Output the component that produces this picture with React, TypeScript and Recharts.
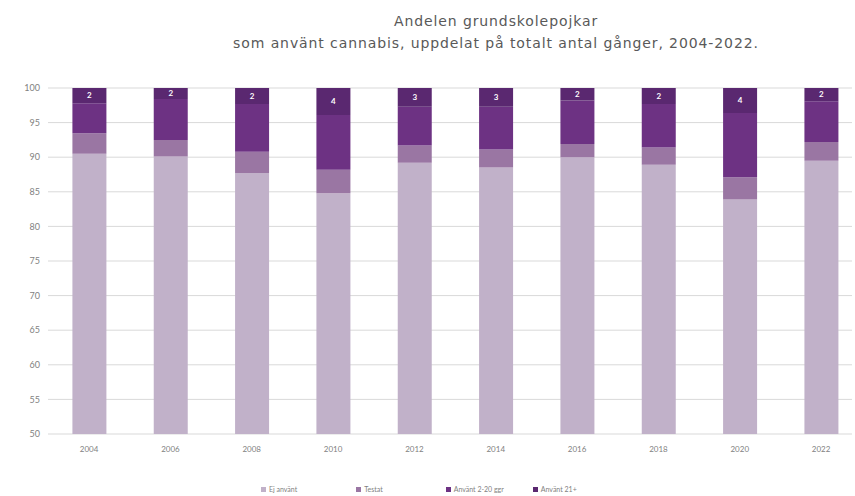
import React from 'react'
import { BarChart, Bar, XAxis, YAxis, CartesianGrid, LabelList } from 'recharts'

const years = [2004, 2006, 2008, 2010, 2012, 2014, 2016, 2018, 2020, 2022]
const ejAnvant = [90.5, 90.1, 87.7, 84.8, 89.2, 88.5, 90.0, 88.9, 83.9, 89.5]
const testat = [2.95, 2.4, 3.1, 3.4, 2.5, 2.6, 1.9, 2.5, 3.2, 2.7]
const anvant2to20 = [4.35, 5.9, 6.9, 7.9, 5.6, 6.2, 6.3, 6.3, 9.3, 5.9]
const anvant21 = [2.2, 1.6, 2.3, 3.9, 2.7, 2.7, 1.8, 2.3, 3.6, 1.9]
const yTicks = [50, 55, 60, 65, 70, 75, 80, 85, 90, 95, 100]

const series = [
  { key: 'ej', name: 'Ej använt', color: '#c1b1c9' },
  { key: 'testat', name: 'Testat', color: '#9a76a3' },
  { key: 'a220', name: 'Använt 2-20 ggr', color: '#6d3283' },
  { key: 'a21', name: 'Använt 21+', color: '#5a2870' },
]

const data = years.map((year, i) => ({
  year,
  ej: ejAnvant[i],
  testat: testat[i],
  a220: anvant2to20[i],
  a21: anvant21[i],
}))

const font = 'Lato, "DejaVu Sans", sans-serif'

export default function App() {
  return (
    <div style={{ position: 'absolute', left: 0, top: 0, width: 855, height: 496, background: '#fff', fontFamily: font }}>
      <div style={{ position: 'absolute', top: 10, left: 0, width: 992, textAlign: 'center', color: '#595959', fontSize: 14, lineHeight: '22px', fontFamily: '"DejaVu Sans", sans-serif', letterSpacing: 0.9 }}>
        Andelen grundskolepojkar
        <br />
        som använt cannabis, uppdelat på totalt antal gånger, 2004-2022.
      </div>
      <BarChart
        width={855}
        height={496}
        data={data}
        margin={{ top: 88, right: 3, left: 8, bottom: 32 }}
      >
        <CartesianGrid vertical={false} stroke="#d9d9d9" />
        <XAxis
          type="number"
          dataKey="year"
          domain={[2002.99, 2022.76]}
          ticks={years}
          interval={0}
          axisLine={false}
          tickLine={false}
          tick={{ fontSize: 8, fill: '#7f7f7f', fontFamily: font }}
          tickMargin={6}
        />
        <YAxis
          domain={[50, 100]}
          ticks={yTicks}
          allowDataOverflow
          axisLine={false}
          tickLine={false}
          width={40}
          tick={{ fontSize: 9, fill: '#7f7f7f', fontFamily: font }}
        />
        {series.map((s) => (
          <Bar
            key={s.key}
            dataKey={s.key}
            name={s.name}
            stackId="a"
            fill={s.color}
            barSize={34}
            isAnimationActive={false}
          >
            {s.key === 'a21' && (
              <LabelList
                dataKey="a21"
                position="center"
                formatter={(v: any) => Math.round(v)}
                fill="#ffffff"
                fontSize={8}
                fontWeight="bold"
                fontFamily={font}
              />
            )}
          </Bar>
        ))}
      </BarChart>
      <div style={{ position: 'absolute', top: 485, left: 261, display: 'flex', fontSize: 7, color: '#7f7f7f' }}>
        {series.map((s, i) => (
          <div key={s.key} style={{ display: 'flex', alignItems: 'center', marginRight: [59, 63, 29, 0][i] }}>
            <span style={{ width: 5, height: 5, background: s.color, marginRight: 3, display: 'inline-block' }} />
            {s.name}
          </div>
        ))}
      </div>
    </div>
  )
}
